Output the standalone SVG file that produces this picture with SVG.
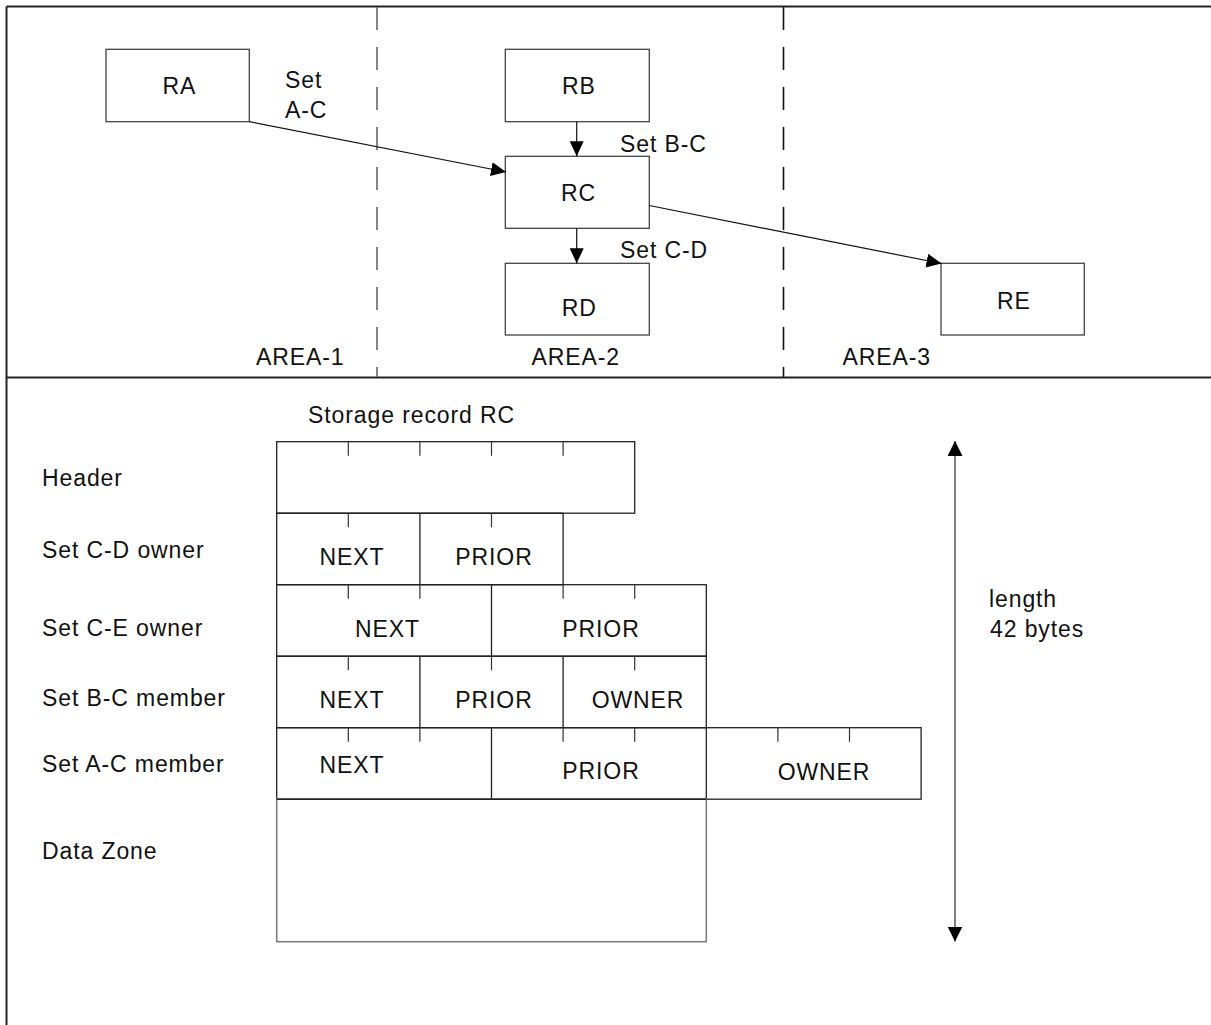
<svg xmlns="http://www.w3.org/2000/svg" width="1211" height="1025" viewBox="0 0 1211 1025">
<style>
text{font-family:"Liberation Sans",Arial,sans-serif;font-size:23px;fill:#111;letter-spacing:0.9px}
.c{text-anchor:middle}
.box{fill:#fff;stroke:#444;stroke-width:1.3}
.cell{fill:none;stroke:#222;stroke-width:1.3}
.tick{stroke:#333;stroke-width:1.2}
.frame{stroke:#222;stroke-width:2;fill:none}
.dash{stroke-width:1.6;stroke-dasharray:23 17;fill:none}
.conn{stroke:#111;stroke-width:1.2;fill:none}
</style>
<defs>
<marker id="ah" markerUnits="userSpaceOnUse" markerWidth="16" markerHeight="15" refX="15" refY="7" orient="auto">
<path d="M0,0 L15,7 L0,14 z" fill="#000"/>
</marker>
<marker id="ah2" markerUnits="userSpaceOnUse" markerWidth="16" markerHeight="16" refX="15" refY="7.5" orient="auto-start-reverse">
<path d="M0,0 L15,7.5 L0,15 z" fill="#000"/>
</marker>
</defs>
<rect width="1211" height="1025" fill="#fff"/>
<g id="frame">
<line class="frame" x1="6.5" y1="6.5" x2="1211" y2="6.5"/>
<line class="frame" x1="6.5" y1="6.5" x2="6.5" y2="1025"/>
<line class="frame" x1="6.5" y1="377.5" x2="1211" y2="377.5"/>
<line class="dash" stroke="#666" x1="377" y1="7" x2="377" y2="377"/>
<line class="dash" stroke="#111" x1="783.5" y1="7" x2="783.5" y2="377"/>
<text x="256" y="365">AREA-1</text>
<text x="531.5" y="365">AREA-2</text>
<text x="842.5" y="365">AREA-3</text>
</g>
<g id="RA"><rect class="box" x="106" y="49.3" width="143.3" height="72.4"/><text class="c" x="179.5" y="94">RA</text></g>
<g id="RB"><rect class="box" x="505.3" y="49.3" width="144" height="72.4"/><text class="c" x="579" y="94">RB</text></g>
<g id="RC"><rect class="box" x="505.3" y="156.3" width="144" height="72"/><text class="c" x="578.5" y="201">RC</text></g>
<g id="RD"><rect class="box" x="505.3" y="263.3" width="144" height="71.7"/><text class="c" x="579.3" y="316">RD</text></g>
<g id="RE"><rect class="box" x="941" y="263.3" width="143.3" height="71.7"/><text class="c" x="1014" y="309">RE</text></g>
<g id="connectors">
<line class="conn" x1="249.3" y1="121.7" x2="506" y2="172" marker-end="url(#ah)"/>
<line class="conn" x1="576.7" y1="121.7" x2="576.7" y2="156.3" marker-end="url(#ah)"/>
<line class="conn" x1="576.7" y1="228.3" x2="576.7" y2="263.3" marker-end="url(#ah)"/>
<line class="conn" x1="649.3" y1="205.5" x2="941.5" y2="263.5" marker-end="url(#ah)"/>
<text x="285" y="88">Set</text>
<text x="285" y="118">A-C</text>
<text x="620" y="151.5">Set B-C</text>
<text x="620" y="258.3">Set C-D</text>
<line x1="955" y1="441" x2="955" y2="941.5" stroke="#808080" stroke-width="2" marker-start="url(#ah2)" marker-end="url(#ah2)"/>
</g>
<g id="record">
<text x="308" y="422.7">Storage record RC</text>
<text x="42" y="486">Header</text>
<text x="42" y="558">Set C-D owner</text>
<text x="42" y="636">Set C-E owner</text>
<text x="42" y="706">Set B-C member</text>
<text x="42" y="772">Set A-C member</text>
<text x="42" y="859">Data Zone</text>
<rect class="cell" x="276.7" y="441.7" width="358" height="71.5"/>
<path class="tick" d="M348.3,441.7v14M419.9,441.7v14M491.5,441.7v14M563.1,441.7v14"/>
<rect class="cell" x="276.7" y="513.2" width="286.4" height="71.5"/>
<path class="cell" d="M419.9,513.2V584.7"/>
<path class="tick" d="M348.3,513.2v14M491.5,513.2v14"/>
<text class="c" x="352" y="565">NEXT</text>
<text class="c" x="494" y="565">PRIOR</text>
<rect class="cell" x="276.7" y="584.7" width="429.6" height="71.5"/>
<path class="cell" d="M491.5,584.7V656.2"/>
<path class="tick" d="M348.3,584.7v14M419.9,584.7v14M563.1,584.7v14M634.7,584.7v14"/>
<text class="c" x="387.5" y="636.7">NEXT</text>
<text class="c" x="601" y="636.7">PRIOR</text>
<rect class="cell" x="276.7" y="656.2" width="429.6" height="71.5"/>
<path class="cell" d="M419.9,656.2V727.7M563.1,656.2V727.7"/>
<path class="tick" d="M348.3,656.2v14M491.5,656.2v14M634.7,656.2v14"/>
<text class="c" x="352" y="707.7">NEXT</text>
<text class="c" x="494" y="707.7">PRIOR</text>
<text class="c" x="638" y="707.7">OWNER</text>
<rect class="cell" x="276.7" y="727.7" width="644.4" height="71.5"/>
<path class="cell" d="M491.5,727.7V799.2M706.3,727.7V799.2"/>
<path class="tick" d="M348.3,727.7v14M419.9,727.7v14M563.1,727.7v14M634.7,727.7v14M777.9,727.7v14M849.5,727.7v14"/>
<text class="c" x="352" y="772.7">NEXT</text>
<text class="c" x="601" y="779.3">PRIOR</text>
<text class="c" x="824" y="780">OWNER</text>
<rect x="276.7" y="799.2" width="429.6" height="142.5" fill="none" stroke="#777" stroke-width="1.5"/>
<line x1="276.7" y1="799.2" x2="706.3" y2="799.2" stroke="#222" stroke-width="1.5"/>
<text x="989" y="607">length</text>
<text x="990" y="637"> 42 bytes</text>
</g>
</svg>
